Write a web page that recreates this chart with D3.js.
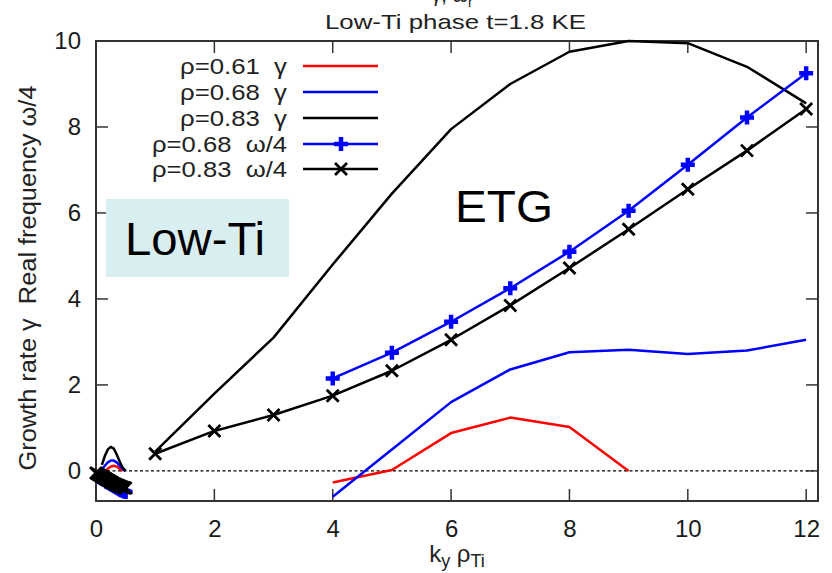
<!DOCTYPE html>
<html><head><meta charset="utf-8">
<script src="https://cdn.jsdelivr.net/npm/d3@7"></script>
<style>
body{margin:0;background:#fff;}
svg{display:block;font-family:"Liberation Sans",Arial,sans-serif;}
text{white-space:pre;}
</style></head>
<body>
<svg id="c" width="832" height="573"></svg>
<script>
// ---- data ----
const xTicks = [0, 2, 4, 6, 8, 10, 12];
const yTicks = [0, 2, 4, 6, 8, 10];

const kGamma061 = [4, 5, 6, 7, 8, 9];
const gamma061 = [-0.27, 0.02, 0.88, 1.24, 1.02, 0.0];
const kGamma068 = [4, 5, 6, 7, 8, 9, 10, 11, 12];
const gamma068 = [-0.6, 0.5, 1.6, 2.36, 2.76, 2.82, 2.72, 2.8, 3.05];
const kGamma083 = [1, 2, 3, 4, 5, 6, 7, 8, 9, 10, 11, 12];
const gamma083 = [0.45, 1.8, 3.1, 4.8, 6.45, 7.95, 9.0, 9.75, 10.0, 9.95, 9.4, 8.55];
const kOmega068 = [4, 5, 6, 7, 8, 9, 10, 11, 12];
const omega068 = [2.15, 2.75, 3.47, 4.25, 5.1, 6.05, 7.12, 8.22, 9.25];
const kOmega083 = [1, 2, 3, 4, 5, 6, 7, 8, 9, 10, 11, 12];
const omega083 = [0.4, 0.93, 1.3, 1.75, 2.33, 3.05, 3.85, 4.72, 5.62, 6.55, 7.45, 8.42];

// low-k (ITG-range) points
const kGamma061Low = [0.15, 0.2, 0.25, 0.3, 0.35, 0.4, 0.45];
const gamma061Low = [0.0, 0.05, 0.1, 0.12, 0.1, 0.05, 0.0];
const kGamma068Low = [0.08, 0.15, 0.2, 0.25, 0.3, 0.35, 0.4, 0.45, 0.5];
const gamma068Low = [0.02, 0.12, 0.2, 0.24, 0.24, 0.2, 0.12, 0.05, 0.0];
const kGamma083Low = [0.1, 0.15, 0.2, 0.25, 0.3, 0.35, 0.4, 0.45, 0.5];
const gamma083Low = [0.14, 0.35, 0.5, 0.56, 0.52, 0.38, 0.22, 0.08, 0.0];
const kOmega068Low = [0.05, 0.075, 0.1, 0.125, 0.15, 0.175, 0.2, 0.225, 0.25, 0.275,
                      0.3, 0.325, 0.35, 0.375, 0.4, 0.425, 0.45, 0.475, 0.5];
const omega068Low = [-0.14, -0.16, -0.18, -0.2, -0.22, -0.25, -0.27, -0.29, -0.31, -0.33,
                     -0.35, -0.37, -0.39, -0.41, -0.43, -0.45, -0.46, -0.48, -0.49];
const kOmega083Low = [0, 0.025, 0.05, 0.075, 0.1, 0.125, 0.15, 0.175, 0.2, 0.225, 0.25,
                      0.275, 0.3, 0.325, 0.35, 0.375, 0.4, 0.425, 0.45, 0.475, 0.5];
const omega083Low = [-0.05, -0.07, -0.09, -0.11, -0.13, -0.15, -0.17, -0.19, -0.21, -0.23, -0.25,
                     -0.27, -0.29, -0.31, -0.32, -0.34, -0.35, -0.37, -0.38, -0.39, -0.4];

const legendLabels = ["ρ=0.61  γ", "ρ=0.68  γ", "ρ=0.83  γ", "ρ=0.68  ω/4", "ρ=0.83  ω/4"];
const legendColors = ["#ff0000", "#0000ff", "#000000", "#0000ff", "#000000"];
const legendMarkers = [null, null, null, "plus", "cross"];

// ---- drawing ----
const svg = d3.select("#c");
const L = 96, R = 818, T = 41, B = 501;
const x = d3.scaleLinear().domain([0, 12.2]).range([L, R]);
const y = d3.scaleLinear().domain([-0.7, 10]).range([B, T]);

svg.append("defs").append("clipPath").attr("id", "clip")
  .append("rect").attr("x", L).attr("y", T - 2).attr("width", R - L).attr("height", B - T + 2);

// partially cut top line (cut off in the original figure)
const topT = svg.append("text").attr("x", 452).attr("y", 2).attr("text-anchor", "middle")
  .attr("font-size", 20).attr("fill", "#222");
topT.append("tspan").text("γ, ω");
topT.append("tspan").attr("font-size", 14).attr("dy", 5).text("r");

svg.append("text").attr("x", 455.5).attr("y", 29).attr("text-anchor", "middle")
  .attr("font-size", 21).attr("fill", "#222")
  .attr("textLength", 261).attr("lengthAdjust", "spacingAndGlyphs")
  .text("Low-Ti phase t=1.8 KE");

// zero line
svg.append("line").attr("x1", x(0)).attr("x2", R).attr("y1", y(0)).attr("y2", y(0))
  .attr("stroke", "#000").attr("stroke-width", 1.3).attr("stroke-dasharray", "3,2.5");

// ticks (inward, mirrored)
const tickLen = 12;
const gT = svg.append("g").attr("stroke", "#333").attr("stroke-width", 1.5);
xTicks.forEach(v => {
  gT.append("line").attr("x1", x(v)).attr("x2", x(v)).attr("y1", B).attr("y2", B - tickLen);
  gT.append("line").attr("x1", x(v)).attr("x2", x(v)).attr("y1", T).attr("y2", T + tickLen);
});
yTicks.forEach(v => {
  gT.append("line").attr("x1", L).attr("x2", L + tickLen).attr("y1", y(v)).attr("y2", y(v));
  gT.append("line").attr("x1", R).attr("x2", R - tickLen).attr("y1", y(v)).attr("y2", y(v));
});

// tick labels via axes
const xAxis = svg.append("g").attr("transform", `translate(0,${B})`)
  .call(d3.axisBottom(x).tickValues(xTicks).tickSize(0).tickPadding(19).tickFormat(d3.format("d")));
const yAxis = svg.append("g").attr("transform", `translate(${L},0)`)
  .call(d3.axisLeft(y).tickValues(yTicks).tickSize(0).tickPadding(15).tickFormat(d3.format("d")));
[xAxis, yAxis].forEach(a => {
  a.select(".domain").remove();
  a.selectAll("text").attr("font-size", 24).attr("fill", "#1a1a1a")
    .attr("font-family", "Liberation Sans, Arial, sans-serif");
});

// frame
svg.append("rect").attr("x", L).attr("y", T).attr("width", R - L).attr("height", B - T)
  .attr("fill", "none").attr("stroke", "#333").attr("stroke-width", 2);

// axis titles
const xl = svg.append("text").attr("x", 457).attr("y", 562).attr("text-anchor", "middle")
  .attr("font-size", 24).attr("fill", "#222");
xl.append("tspan").text("k");
xl.append("tspan").attr("font-size", 18).attr("dy", 5).text("y");
xl.append("tspan").attr("dy", -5).text(" ρ");
xl.append("tspan").attr("font-size", 18).attr("dy", 5).text("Ti");

svg.append("text").attr("transform", "translate(36,278) rotate(-90)")
  .attr("text-anchor", "middle").attr("font-size", 23).attr("fill", "#222")
  .attr("textLength", 385).attr("lengthAdjust", "spacingAndGlyphs")
  .text("Growth rate γ  Real frequency ω/4");

// Low-Ti box & ETG label
svg.append("rect").attr("x", 106).attr("y", 199).attr("width", 183).attr("height", 78)
  .attr("fill", "#d9eef0");
svg.append("text").attr("x", 125).attr("y", 255).attr("font-size", 46).attr("fill", "#000")
  .attr("textLength", 140).attr("lengthAdjust", "spacingAndGlyphs").text("Low-Ti");
svg.append("text").attr("x", 455).attr("y", 222).attr("font-size", 44).attr("fill", "#000")
  .attr("textLength", 98).attr("lengthAdjust", "spacingAndGlyphs").text("ETG");

// series
const line = d3.line().x(d => x(d[0])).y(d => y(d[1]));
const zip = (ks, vs) => ks.map((k, i) => [k, vs[i]]);
const plot = svg.append("g").attr("clip-path", "url(#clip)");
const markG = svg.append("g");

function drawLine(ks, vs, color) {
  plot.append("path").datum(zip(ks, vs)).attr("d", line)
    .attr("fill", "none").attr("stroke", color).attr("stroke-width", 2.5)
    .attr("stroke-linejoin", "round");
}
function drawMarkers(ks, vs, color, type) {
  const p = type === "plus" ? "M-7,0H7M0,-7V7" : "M-6,-6L6,6M-6,6L6,-6";
  markG.selectAll(null).data(zip(ks, vs)).enter().append("path")
    .attr("transform", d => `translate(${x(d[0])},${y(d[1])})`)
    .attr("d", p).attr("fill", "none").attr("stroke", color)
    .attr("stroke-width", type === "plus" ? 4.5 : 2.8);
}

drawLine(kGamma061Low, gamma061Low, "#ff0000");
drawLine(kGamma061, gamma061, "#ff0000");
drawLine(kGamma068Low, gamma068Low, "#0000ff");
drawLine(kGamma068, gamma068, "#0000ff");
drawLine(kGamma083Low, gamma083Low, "#000000");
drawLine(kGamma083, gamma083, "#000000");

drawLine(kOmega068Low, omega068Low, "#0000ff");
drawMarkers(kOmega068Low, omega068Low, "#0000ff", "plus");
drawLine(kOmega068, omega068, "#0000ff");
drawMarkers(kOmega068, omega068, "#0000ff", "plus");
drawLine(kOmega083Low, omega083Low, "#000000");
drawMarkers(kOmega083Low, omega083Low, "#000000", "cross");
drawLine(kOmega083, omega083, "#000000");
drawMarkers(kOmega083, omega083, "#000000", "cross");

// legend
const legY = [66, 92, 118, 144, 169];
legendLabels.forEach((lab, i) => {
  const tw = lab.includes("ω") ? 135 : 107;
  svg.append("text").attr("x", 287).attr("y", legY[i] + 8).attr("text-anchor", "end")
    .attr("font-size", 22).attr("fill", "#222")
    .attr("textLength", tw).attr("lengthAdjust", "spacingAndGlyphs").text(lab);
  svg.append("line").attr("x1", 303).attr("x2", 378).attr("y1", legY[i]).attr("y2", legY[i])
    .attr("stroke", legendColors[i]).attr("stroke-width", 2.5);
  if (legendMarkers[i]) {
    const p = legendMarkers[i] === "plus" ? "M-7,0H7M0,-7V7" : "M-6,-6L6,6M-6,6L6,-6";
    svg.append("path").attr("transform", `translate(341,${legY[i]})`).attr("d", p)
      .attr("fill", "none").attr("stroke", legendColors[i])
      .attr("stroke-width", legendMarkers[i] === "plus" ? 4.5 : 2.8);
  }
});
</script>
</body></html>
